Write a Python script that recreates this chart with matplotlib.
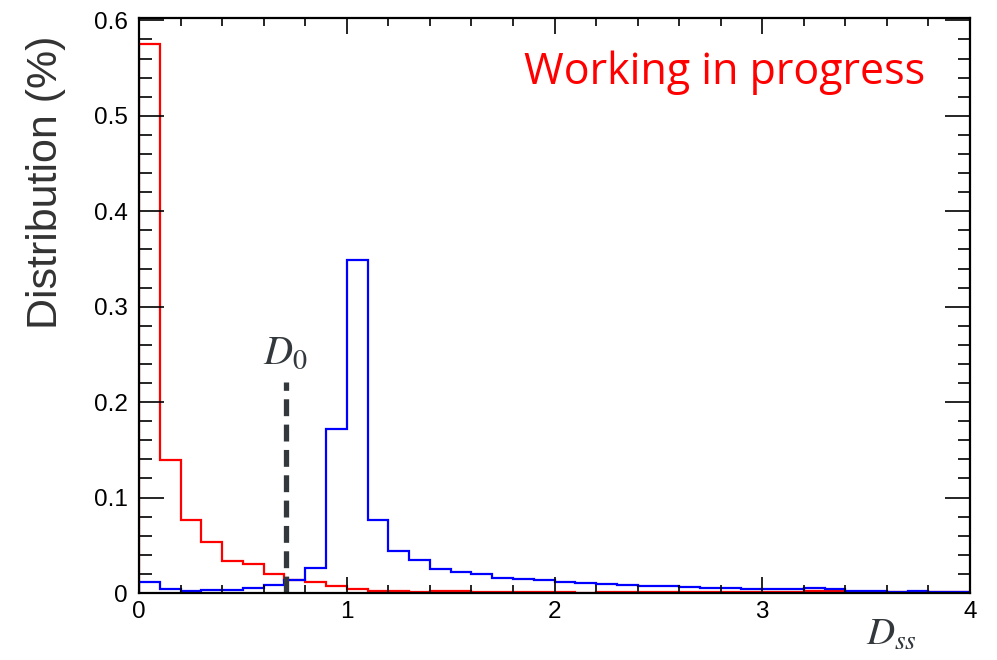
import numpy as np
import matplotlib
matplotlib.use("Agg")
import matplotlib.pyplot as plt
from matplotlib.ticker import MultipleLocator, FuncFormatter

# bin edges: 40 bins of 0.1 on [0, 4]
bin_edges = np.round(np.arange(41) * 0.1, 1)

# red histogram
red_vals = [0.575, 0.139, 0.0768, 0.053, 0.0333, 0.030, 0.0197, 0.014, 0.0112, 0.0070,
            0.0046, 0.0020, 0.0020, 0.0015, 0.0020, 0.0020, 0.0010, 0.0010, 0.0015, 0.0015,
            0.0015, 0.0005, 0.0015, 0.0008, 0.0008, 0.0008, 0.0008, 0.0008, 0.0008, 0.0008,
            0.0008, 0.0015, 0.0025, 0.0020, 0.0012, 0.0010, 0.0010, 0.0010, 0.0006, 0.0006]

# blue histogram
blue_vals = [0.0120, 0.0044, 0.0024, 0.0033, 0.0035, 0.0054, 0.0083, 0.0136, 0.0267, 0.172,
             0.349, 0.077, 0.0439, 0.035, 0.0250, 0.0215, 0.0204, 0.0158, 0.0144, 0.0134,
             0.0116, 0.0105, 0.0098, 0.0084, 0.0074, 0.0074, 0.0063, 0.0050, 0.0048, 0.0046,
             0.0045, 0.0040, 0.0055, 0.0040, 0.0025, 0.0025, 0.0010, 0.0025, 0.0015, 0.0015]

d0_x = 0.707
d0_top = 0.221

fig = plt.figure(figsize=(9.97, 6.6), dpi=100)
ax = fig.add_axes([139/997, (660-593)/660, (970-139)/997, (593-18)/660])

ax.stairs(red_vals, bin_edges, color="#ff0000", linewidth=1.6)
ax.stairs(blue_vals, bin_edges, color="#0000ff", linewidth=1.6)

# D0 cut line
ax.plot([d0_x, d0_x], [0, d0_top], color="#33383d", linewidth=3.8,
        linestyle=(0, (3.2, 1.6)), solid_capstyle="butt", dash_capstyle="butt")
ax.text(d0_x, d0_top + 0.01, r"$D_0$", fontsize=29, ha="center", va="bottom",
        color="#33383d", math_fontfamily="stix")

ax.set_xlim(0, 4)
ax.set_ylim(0, 0.6025)
ax.xaxis.set_major_locator(MultipleLocator(1))
ax.xaxis.set_minor_locator(MultipleLocator(0.2))
ax.yaxis.set_major_locator(MultipleLocator(0.1))
ax.yaxis.set_minor_locator(MultipleLocator(0.02))
ax.xaxis.set_major_formatter(FuncFormatter(lambda v, p: "%g" % v))
ax.yaxis.set_major_formatter(FuncFormatter(lambda v, p: "%g" % round(v, 1)))

ax.tick_params(axis="both", which="both", direction="in", top=True, right=True,
               width=1.2, colors="black", labelsize=17.5)
ax.tick_params(axis="x", which="major", length=11.5, pad=6)
ax.tick_params(axis="x", which="minor", length=5.8)
ax.tick_params(axis="y", which="major", length=18, pad=8)
ax.tick_params(axis="y", which="minor", length=9)
for lab in ax.get_xticklabels() + ax.get_yticklabels():
    lab.set_fontfamily("Liberation Sans")
for s in ax.spines.values():
    s.set_linewidth(1.6)

ax.set_ylabel("Distribution (%)", fontsize=31, fontfamily="Liberation Sans",
              color="#333333")
ax.yaxis.set_label_coords(-0.088, 0.715)

ax.text(3.62, -0.043, r"$D_{ss}$", fontsize=28, ha="center", va="center",
        color="#33383d", math_fontfamily="stix", clip_on=False)

ax.text(0.946, 0.905, "Working in progress", transform=ax.transAxes, fontsize=31,
        color="#ff0000", ha="right", va="center", fontfamily="Open Sans")

fig.savefig("out.png", dpi=100)
